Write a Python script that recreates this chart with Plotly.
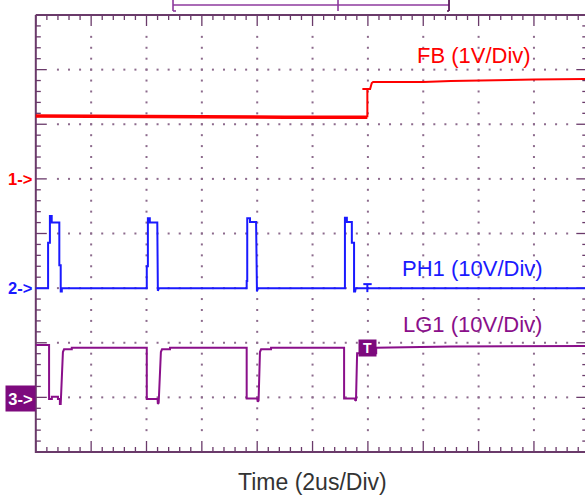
import plotly.graph_objects as go
import numpy as np

# ---------------- data (time in microseconds, trigger at t = 0) ----------------
# FB : 1 V/div, ground marker at division 5
fb_t = [-12.0, -9.0, -6.0, -3.0, -0.02, -0.02, 0.08, 0.14, 0.19, 2.0, 3.0, 4.06, 6.0, 8.0]
fb_v = [1.15, 1.14, 1.14, 1.13, 1.13, 1.645, 1.645, 1.755, 1.775, 1.775, 1.79, 1.805, 1.82, 1.83]

# PH1 : 10 V/div, ground marker at division 3
ph1_t = [-12.0, -11.556, -11.556, -11.49, -11.49, -11.425, -11.425, -11.15, -11.15, -11.10, -11.10, -11.06, -11.06,
         -7.99, -7.99, -7.95, -7.95, -7.88, -7.88, -7.61, -7.59, -7.59, -7.55,
         -4.38, -4.38, -4.36, -4.36, -4.26, -4.26, -4.04, -4.01, -4.01, -3.97,
         -0.83, -0.83, -0.76, -0.76, -0.58, -0.58, -0.50, -0.50, -0.46, -0.44,
         8.0]
ph1_v = [0, 0, 8.3, 8.3, 13.2, 13.2, 12.0, 12.0, 4.2, 4.2, -0.6, -0.6, 0,
         0, 4.0, 4.0, 12.8, 12.8, 12.0, 12.0, 0, -0.5, 0,
         0, 1.3, 1.3, 12.8, 12.8, 12.1, 12.1, 0, -0.6, 0,
         0, 12.9, 12.9, 12.1, 12.1, 8.3, 8.3, -0.6, -0.6, 0,
         0]

# LG1 : 10 V/div, ground marker at division 1
lg1_t = [-12.0, -11.52, -11.52, -11.42, -11.42, -11.20, -11.20, -11.13, -11.13, -11.10, -11.02, -10.98, -10.70, -10.70,
         -7.99, -7.99, -7.60, -7.59, -7.56, -7.48, -7.44, -7.15, -7.15,
         -4.38, -4.38, -4.00, -3.98, -3.95, -3.90, -3.86, -3.50, -3.50,
         -0.86, -0.86, -0.46, -0.46, -0.43, -0.39, -0.30, 0.30, 0.30, 3.0, 8.0]
lg1_v = [9.6, 9.6, -0.3, -0.3, 0.1, 0.1, -0.3, -0.3, -1.2, -1.2, 8.3, 8.8, 8.8, 9.1,
         9.1, -0.3, -0.3, -1.2, -1.0, 8.3, 8.8, 8.8, 9.1,
         9.1, -0.2, -0.2, -0.8, -0.6, 8.3, 8.8, 8.8, 9.1,
         9.1, -0.2, -0.2, -0.6, -0.5, 8.1, 8.1, 8.1, 9.1, 9.3, 9.4]

channels = [
    dict(name="FB", t=fb_t, v=fb_v, scale=1.0, ground=5, color="#ff0000", label="FB (1V/Div)",
         label_t=3.816, label_div=7.259),
    dict(name="PH1", t=ph1_t, v=ph1_v, scale=10.0, ground=3, color="#1a1aff", label="PH1 (10V/Div)",
         label_t=3.794, label_div=3.368),
    dict(name="LG1", t=lg1_t, v=lg1_v, scale=10.0, ground=1, color="#8a0f8a", label="LG1 (10V/Div)",
         label_t=3.78, label_div=2.343),
]

TRIG_T = 0.0
X_TITLE = "Time (2us/Div)"

# ---------------- screen geometry ----------------
DIV_T = 2.0          # us per division
T0 = -12.0           # time at left graticule edge
NX, NY = 10, 8
PX_X = 55.35         # pixels per horizontal division
PX_Y = 54.625        # pixels per vertical division
W, H = 585, 501
LEFT_PX, BOTTOM_PX = 35.8, 452.0
pt = DIV_T / PX_X    # us per pixel
pd = 1.0 / PX_Y      # div per pixel
T_END = T0 + NX * DIV_T

x_range = [T0 - LEFT_PX * pt, T0 + (W - LEFT_PX) * pt]
y_range = [-(H - BOTTOM_PX) * pd, BOTTOM_PX * pd]

FRAME = "#6a3a6a"
DOT = "#8c6a8c"

fig = go.Figure()

# graticule dots
dx, dy = [], []
for i in range(1, NX):
    for k in range(2, NY * 5 - 1):
        dx.append(T0 + i * DIV_T)
        dy.append(k * 0.2)
for j in range(1, NY):
    for k in range(2, NX * 5 - 1):
        dx.append(T0 + k * 0.2 * DIV_T)
        dy.append(j)
fig.add_trace(go.Scatter(x=dx, y=dy, mode="markers",
                         marker=dict(symbol="square", size=2, color=DOT, line=dict(width=0)),
                         hoverinfo="skip"))

# frame ticks
tx, ty = [], []
for i in range(NX * 5 + 1):
    x = T0 + i * 0.2 * DIV_T
    L = 11 if i % 5 == 0 else 5
    tx += [x, x, None]; ty += [NY, NY - L * pd, None]
    tx += [x, x, None]; ty += [0, L * pd, None]
for j in range(NY * 5 + 1):
    y = j * 0.2
    L = 11 if j % 5 == 0 else 5
    tx += [T0, T0 + L * pt, None]; ty += [y, y, None]
    L2 = 13 if j % 5 == 0 else 7
    tx += [T_END, T_END - L2 * pt, None]; ty += [y, y, None]
fig.add_trace(go.Scatter(x=tx, y=ty, mode="lines", line=dict(color=FRAME, width=1.3),
                         hoverinfo="skip"))
# frame border
fig.add_trace(go.Scatter(x=[T0, T0, T_END, T_END, T0], y=[NY, 0, 0, NY, NY], mode="lines",
                         line=dict(color=FRAME, width=2), hoverinfo="skip"))

# waveforms
for ch in channels:
    ys = [ch["ground"] + v / ch["scale"] for v in ch["v"]]
    if ch["name"] == "FB":
        # noisier (thicker) band before the step
        n_low = 5
        fig.add_trace(go.Scatter(x=ch["t"][:n_low], y=ys[:n_low], mode="lines",
                                 line=dict(color=ch["color"], width=3.5), hoverinfo="skip"))
        fig.add_trace(go.Scatter(x=ch["t"][n_low - 1:], y=ys[n_low - 1:], mode="lines",
                                 line=dict(color=ch["color"], width=2), hoverinfo="skip"))
    else:
        fig.add_trace(go.Scatter(x=ch["t"], y=ys, mode="lines",
                                 line=dict(color=ch["color"], width=2), hoverinfo="skip"))

# record-length bar at top
BAR_T0, BAR_T1, BAR_MID = -7.042, 2.931, -1.080
bar_c = "#8e3a9e"
y_line = (BOTTOM_PX - 5) * pd
y_top = (BOTTOM_PX - 0) * pd
y_bot = (BOTTOM_PX - 11) * pd
shapes = [
    dict(type="line", x0=BAR_T0, x1=BAR_T1, y0=y_line, y1=y_line, line=dict(color=bar_c, width=1.6)),
    dict(type="line", x0=BAR_T0, x1=BAR_T0, y0=y_top, y1=y_bot, line=dict(color=bar_c, width=1.6)),
    dict(type="line", x0=BAR_T0, x1=BAR_T0 + 3 * pt, y0=y_bot, y1=y_bot, line=dict(color=bar_c, width=1.6)),
    dict(type="line", x0=BAR_T1, x1=BAR_T1, y0=y_top, y1=y_bot, line=dict(color="#5a1a5a", width=1.8)),
    dict(type="line", x0=BAR_T1, x1=BAR_T1 - 2 * pt, y0=y_bot, y1=y_bot, line=dict(color="#5a1a5a", width=1.6)),
    dict(type="line", x0=BAR_MID, x1=BAR_MID, y0=y_top, y1=y_bot, line=dict(color=bar_c, width=1.6)),
]

# trigger T marks on FB and PH1
fb_div = channels[0]["ground"] + 1.645 / channels[0]["scale"]
shapes.append(dict(type="line", x0=TRIG_T - 0.20, x1=TRIG_T + 0.08, y0=fb_div, y1=fb_div,
                   line=dict(color="#ff0000", width=2)))
ph_g = channels[1]["ground"]
shapes.append(dict(type="line", x0=TRIG_T - 0.166, x1=TRIG_T + 0.137, y0=ph_g + 4 * pd, y1=ph_g + 4 * pd,
                   line=dict(color="#1a1aff", width=2)))
shapes.append(dict(type="line", x0=TRIG_T - 0.02, x1=TRIG_T - 0.02, y0=ph_g + 4 * pd, y1=ph_g - 4 * pd,
                   line=dict(color="#1a1aff", width=2)))

annotations = []
for ch in channels:
    annotations.append(dict(x=ch["label_t"], y=ch["label_div"], text=ch["label"], showarrow=False,
                            xanchor="center", yanchor="middle",
                            font=dict(family="Liberation Sans", size=22, color=ch["color"])))
# ground markers
for idx, ch in enumerate(channels):
    lbl = f"<b>{idx + 1}-></b>"
    if idx < 2:
        annotations.append(dict(x=T0 - 16 * pt, y=ch["ground"], text=lbl, showarrow=False,
                                xanchor="center", yanchor="middle",
                                font=dict(family="Liberation Sans", size=16.5, color=ch["color"])))
    else:
        annotations.append(dict(x=T0 - 15.5 * pt, y=ch["ground"] - 1.5 * pd, text=lbl, showarrow=False,
                                xanchor="center", yanchor="middle", bgcolor="#7d0a7d",
                                width=27, height=23, borderpad=1,
                                font=dict(family="Liberation Sans", size=16.5, color="#ffffff")))
# purple trigger box on LG1
lg_g = channels[2]["ground"]
annotations.append(dict(x=TRIG_T - 0.03, y=lg_g + 0.904, text="<b>T</b>", showarrow=False,
                        xanchor="center", yanchor="middle", bgcolor="#7d0a7d",
                        width=15, height=14, borderpad=1,
                        font=dict(family="Liberation Sans", size=14, color="#ffffff")))
# x title
annotations.append(dict(x=T0 + (312 - LEFT_PX) * pt, y=-(482 - BOTTOM_PX) * pd, text=X_TITLE,
                        showarrow=False, xanchor="center", yanchor="middle",
                        font=dict(family="Liberation Sans", size=23, color="#333333")))

fig.update_layout(
    width=W, height=H, margin=dict(l=0, r=0, t=0, b=0),
    paper_bgcolor="white", plot_bgcolor="white", showlegend=False,
    xaxis=dict(range=x_range, visible=False, fixedrange=True),
    yaxis=dict(range=y_range, visible=False, fixedrange=True),
    shapes=shapes, annotations=annotations,
)
fig.write_html("out.html")
